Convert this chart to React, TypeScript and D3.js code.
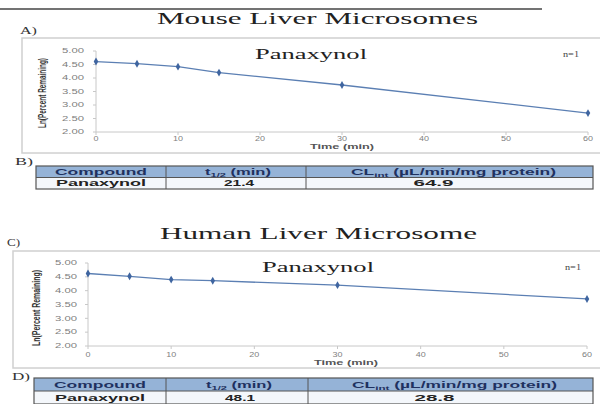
import React from "react";
import * as d3 from "d3";

const timePoints = [0, 5, 10, 15, 30, 60];
const mouseLnRemaining = [4.61, 4.53, 4.42, 4.2, 3.74, 2.7];
const humanLnRemaining = [4.62, 4.52, 4.4, 4.36, 4.2, 3.7];
const yTicks = [2.0, 2.5, 3.0, 3.5, 4.0, 4.5, 5.0];
const xTicks = [0, 10, 20, 30, 40, 50, 60];
const compounds = ["Panaxynol"];
const mouseHalfLife = ["21.4"];
const mouseClint = ["64.9"];
const humanHalfLife = ["48.1"];
const humanClint = ["28.8"];

const SERIF = "'Liberation Serif', 'Times New Roman', serif";
const SANS = "'Liberation Sans', Arial, sans-serif";

type ChartCfg = {
  box: [number, number, number, number];
  xRange: [number, number];
  yRange: [number, number];
  xLabelY: number;
  timeX: number;
  timeY: number;
  yTitleX: number;
  yTitleCY: number;
  yTitleLen: number;
  tickRight: number;
  titleX: [number, number];
  titleY: number;
  nX: number;
  nY: number;
};

function Chart({ cfg, values }: { cfg: ChartCfg; values: number[] }) {
  const x = d3.scaleLinear().domain([0, 60]).range(cfg.xRange);
  const y = d3.scaleLinear().domain([2, 5]).range(cfg.yRange);
  const pts = timePoints.map((t, i) => [x(t), y(values[i])] as [number, number]);
  const line = d3.line()(pts) || "";
  const [bx, by, bw, bh] = cfg.box;
  return (
    <g>
      <rect x={bx} y={by} width={bw} height={bh} fill="#fff" stroke="#d0d0d0" strokeWidth={1.5} />
      <line x1={x(0)} x2={x(0)} y1={y(5)} y2={y(2)} stroke="#c8c8c8" strokeWidth={1} />
      <line x1={x(0)} x2={x(60)} y1={y(2)} y2={y(2)} stroke="#c8c8c8" strokeWidth={1} />
      {yTicks.map((t) => (
        <g key={"y" + t}>
          <line x1={x(0) - 3} x2={x(0)} y1={y(t)} y2={y(t)} stroke="#c8c8c8" />
          <text
            x={cfg.tickRight}
            y={y(t) + 2.3}
            textAnchor="end"
            fontSize={6.5}
            fontFamily={SANS}
            fill="#808080"
            textLength={22}
            lengthAdjust="spacingAndGlyphs"
          >
            {t.toFixed(2)}
          </text>
        </g>
      ))}
      {xTicks.map((t) => (
        <g key={"x" + t}>
          <line x1={x(t)} x2={x(t)} y1={y(2)} y2={y(2) + 3} stroke="#c8c8c8" />
          <text
            x={x(t)}
            y={cfg.xLabelY}
            textAnchor="middle"
            fontSize={6.5}
            fontFamily={SANS}
            fill="#808080"
            textLength={t === 0 ? 5 : 10}
            lengthAdjust="spacingAndGlyphs"
          >
            {t}
          </text>
        </g>
      ))}
      <text
        x={cfg.timeX}
        y={cfg.timeY}
        textAnchor="middle"
        fontSize={7}
        fontWeight="bold"
        fontFamily={SANS}
        fill="#555"
        textLength={64}
        lengthAdjust="spacingAndGlyphs"
      >
        Time (min)
      </text>
      <text
        transform={`translate(${cfg.yTitleX},${cfg.yTitleCY}) rotate(-90)`}
        textAnchor="middle"
        fontSize={10}
        fontWeight="bold"
        fontFamily={SANS}
        fill="#333"
        textLength={cfg.yTitleLen}
        lengthAdjust="spacingAndGlyphs"
      >
        Ln(Percent Remaining)
      </text>
      <text
        x={cfg.titleX[0]}
        y={cfg.titleY}
        fontSize={15.5}
        fontFamily={SERIF}
        fill="#222"
        textLength={cfg.titleX[1] - cfg.titleX[0]}
        lengthAdjust="spacingAndGlyphs"
      >
        Panaxynol
      </text>
      <text
        x={cfg.nX}
        y={cfg.nY}
        fontSize={8}
        fontFamily={SERIF}
        fill="#444"
        textLength={16}
        lengthAdjust="spacingAndGlyphs"
      >
        n=1
      </text>
      <path d={line} fill="none" stroke="#5b7fb3" strokeWidth={1.3} />
      {pts.map((p, i) => (
        <path
          key={i}
          d={d3.symbol(d3.symbolDiamond, 18)() || ""}
          transform={`translate(${p[0]},${p[1]})`}
          fill="#3f65a0"
        />
      ))}
    </g>
  );
}

type TableCfg = { x: number[]; top: number; rowH: number; halfLife: string[]; clint: string[] };

function DataTable({ cfg }: { cfg: TableCfg }) {
  const [x0, x1, x2, x3] = cfg.x;
  const t = cfg.top;
  const h = cfg.rowH;
  const centers = [(x0 + x1) / 2, (x1 + x2) / 2, (x2 + x3) / 2];
  const hy = t + h / 2 + 3;
  const dy = t + h + h / 2 + 3;
  return (
    <g>
      <rect x={x0} y={t} width={x3 - x0} height={h} fill="#95b3d7" />
      <rect x={x0} y={t + h} width={x3 - x0} height={h} fill="#f4f7fb" />
      <rect x={x0} y={t} width={x3 - x0} height={2 * h} fill="none" stroke="#555" strokeWidth={1.2} />
      <line x1={x0} x2={x3} y1={t + h} y2={t + h} stroke="#555" strokeWidth={1} />
      <line x1={x1} x2={x1} y1={t} y2={t + 2 * h} stroke="#555" strokeWidth={1} />
      <line x1={x2} x2={x2} y1={t} y2={t + 2 * h} stroke="#555" strokeWidth={1} />
      <text x={centers[0]} y={hy} textAnchor="middle" fontSize={9} fontWeight="bold" fontFamily={SANS} fill="#1f3160" textLength={92} lengthAdjust="spacingAndGlyphs">
        Compound
      </text>
      <text x={centers[1] + 2} y={hy} textAnchor="middle" fontSize={9} fontWeight="bold" fontFamily={SANS} fill="#1f3160" textLength={66} lengthAdjust="spacingAndGlyphs">
        t<tspan fontSize={6} dy={2}>1/2</tspan>
        <tspan dy={-2}> (min)</tspan>
      </text>
      <text x={centers[2] + 4} y={hy} textAnchor="middle" fontSize={9} fontWeight="bold" fontFamily={SANS} fill="#1f3160" textLength={205} lengthAdjust="spacingAndGlyphs">
        CL<tspan fontSize={6} dy={2}>int</tspan>
        <tspan dy={-2}> (µL/min/mg protein)</tspan>
      </text>
      {compounds.map((c, i) => (
        <g key={c}>
          <text x={centers[0]} y={dy + i * h} textAnchor="middle" fontSize={8.5} fontWeight="bold" fontFamily={SANS} fill="#222" textLength={90} lengthAdjust="spacingAndGlyphs">
            {c}
          </text>
          <text x={centers[1] + 3} y={dy + i * h} textAnchor="middle" fontSize={8.5} fontWeight="bold" fontFamily={SANS} fill="#222" textLength={30} lengthAdjust="spacingAndGlyphs">
            {cfg.halfLife[i]}
          </text>
          <text x={centers[2] - 16} y={dy + i * h} textAnchor="middle" fontSize={8.5} fontWeight="bold" fontFamily={SANS} fill="#222" textLength={40} lengthAdjust="spacingAndGlyphs">
            {cfg.clint[i]}
          </text>
        </g>
      ))}
    </g>
  );
}

const chartA: ChartCfg = {
  box: [22, 38, 590, 115],
  xRange: [96, 588],
  yRange: [132, 51],
  xLabelY: 141,
  timeX: 342,
  timeY: 149,
  yTitleX: 46,
  yTitleCY: 93,
  yTitleLen: 70,
  tickRight: 84,
  titleX: [255, 367],
  titleY: 59,
  nX: 563,
  nY: 57,
};

const chartC: ChartCfg = {
  box: [13, 251, 600, 117],
  xRange: [88, 587],
  yRange: [346, 263],
  xLabelY: 357,
  timeX: 346,
  timeY: 365,
  yTitleX: 40,
  yTitleCY: 308,
  yTitleLen: 76,
  tickRight: 77,
  titleX: [262, 374],
  titleY: 272,
  nX: 565,
  nY: 270,
};

export default function App() {
  return (
    <svg width={600} height={404} style={{ position: "absolute", left: 0, top: 0, background: "#fff" }}>
      <rect x={0} y={0} width={600} height={404} fill="#fff" />
      <line x1={0} x2={542} y1={9} y2={9} stroke="#444" strokeWidth={1.6} />
      <text x={157} y={24} fontSize={16.5} fontFamily={SERIF} fill="#222" textLength={321} lengthAdjust="spacingAndGlyphs">
        Mouse Liver Microsomes
      </text>
      <text x={20} y={34} fontSize={10} fontFamily={SERIF} fill="#333" textLength={17} lengthAdjust="spacingAndGlyphs">
        A)
      </text>
      <Chart cfg={chartA} values={mouseLnRemaining} />
      <text x={15} y={165} fontSize={10} fontFamily={SERIF} fill="#333" textLength={18} lengthAdjust="spacingAndGlyphs">
        B)
      </text>
      <DataTable cfg={{ x: [36, 166, 306, 593], top: 166, rowH: 11.5, halfLife: mouseHalfLife, clint: mouseClint }} />

      <text x={160} y={239} fontSize={16.5} fontFamily={SERIF} fill="#222" textLength={317} lengthAdjust="spacingAndGlyphs">
        Human Liver Microsome
      </text>
      <text x={7} y={246} fontSize={10} fontFamily={SERIF} fill="#333" textLength={13} lengthAdjust="spacingAndGlyphs">
        C)
      </text>
      <Chart cfg={chartC} values={humanLnRemaining} />
      <text x={12} y={380} fontSize={10} fontFamily={SERIF} fill="#333" textLength={18} lengthAdjust="spacingAndGlyphs">
        D)
      </text>
      <DataTable cfg={{ x: [34, 166, 308, 593], top: 378, rowH: 13, halfLife: humanHalfLife, clint: humanClint }} />
    </svg>
  );
}
